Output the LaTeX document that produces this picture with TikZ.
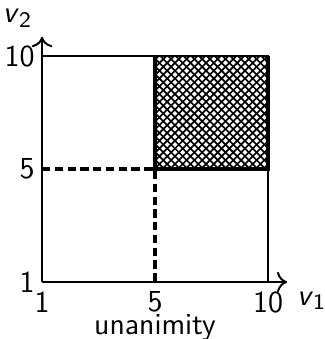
\documentclass[tikz,border=0pt]{standalone}
\usetikzlibrary{patterns,arrows.meta,positioning}

% coarser cross hatching
\pgfdeclarepatternformonly{hatchcross}{\pgfqpoint{-1pt}{-1pt}}{\pgfqpoint{3.8pt}{3.8pt}}{\pgfqpoint{2.8pt}{2.8pt}}{
  \pgfsetlinewidth{0.6pt}
  \pgfpathmoveto{\pgfqpoint{0pt}{0pt}}\pgfpathlineto{\pgfqpoint{2.8pt}{2.8pt}}
  \pgfpathmoveto{\pgfqpoint{0pt}{2.8pt}}\pgfpathlineto{\pgfqpoint{2.8pt}{0pt}}
  \pgfusepath{stroke}}

\begin{document}
\begin{tikzpicture}[
  x=1.43cm, y=1.43cm, font=\sffamily\fontsize{11}{13}\selectfont,
  frame/.style={line width=0.7pt},
  region/.style={line width=1.4pt},
  guide/.style={line width=1.4pt, dash pattern=on 3pt off 1.6pt},
  axis/.style={line width=0.7pt, -{To[length=1.3mm, width=2.6mm]}}]
  \useasboundingbox (-0.372,-0.504) rectangle (2.496,2.496);
  \coordinate (o) at (0,0);
  \coordinate (mid) at (1,1);
  \coordinate (top) at (2,2);
  \coordinate (xend) at (2.17,0);
  \coordinate (yend) at (0,2.17);
  % unanimity region
  \fill[pattern=hatchcross] (mid) rectangle (top);
  \draw[frame] (0,2) -- (top) -- (2,0);
  \draw[region] (1,2) -- (mid) -- (2,1) -- (top);
  \draw[guide] (0,1) -- (mid) -- (1,0);
  % axes
  \draw[axis] (o) -- (xend);
  \draw[axis] (o) -- (yend);
  \node[left, inner sep=2.5pt] (y1) at (o) {1};
  \node[left, inner sep=2.5pt] (y5) at (0,1) {5};
  \node[left, inner sep=2.5pt] (y10) at (0,2) {10};
  \node[below] (x1) at (o) {1};
  \node[below] (x5) at (1,0) {5};
  \node[below] (x10) at (2,0) {10};
  \node[below right] (v1) at (xend) {\textit{v}$_{\mathsf{1}}$};
  \node[above left] (v2) at (yend) {\textit{v}$_{\mathsf{2}}$};
  \node[below=-2.2mm of x5] (title) {unanimity};
\end{tikzpicture}
\end{document}
